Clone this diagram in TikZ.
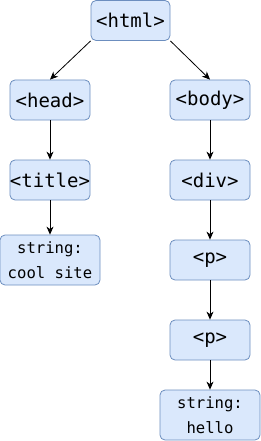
\documentclass[tikz,border=0pt]{standalone}
\usepackage{fontspec}
\setmonofont{DejaVu Sans Mono}
\usetikzlibrary{arrows.meta}
\definecolor{boxfill}{HTML}{DAE8FC}
\definecolor{boxline}{HTML}{6C8EBF}
\begin{document}
\begin{tikzpicture}[x=1pt,y=-1pt,
  tagbox/.style={draw=boxline, fill=boxfill, rounded corners=5pt, line width=0.8pt,
    inner sep=0pt, minimum width=80pt, minimum height=40pt,
    font=\ttfamily\fontsize{19}{23}\selectfont},
  strbox/.style={draw=boxline, fill=boxfill, rounded corners=5pt, line width=0.8pt,
    inner sep=0pt, minimum width=100pt, minimum height=50pt, align=center,
    font=\ttfamily\fontsize{15.6}{25}\selectfont},
  conn/.style={draw=black, line width=0.8pt, -{Stealth[length=8pt,width=7pt,inset=2.5pt]}}
]
\useasboundingbox (0,0) rectangle (261,441);
\node[tagbox, minimum width=79pt] (html) at (130.5,20.5) {<html>};
\node[tagbox] (head) at (50,100) {<head>};
\node[tagbox] (body) at (210,100) {<body>};
\node[tagbox] (title) at (50,180) {<title>};
\node[tagbox] (div) at (210,180) {<div>};
\node[strbox] (s1) at (50,260) {string:\\cool site};
\node[tagbox] (p1) at (210,260) {<p>};
\node[tagbox] (p2) at (210,340) {<p>};
\node[strbox] (s2) at (210,415) {string:\\hello};
\draw[conn] (html.south west) -- (head.north);
\draw[conn] (html.south east) -- (body.north);
\draw[conn] (head) -- (title);
\draw[conn] (title) -- (s1);
\draw[conn] (body) -- (div);
\draw[conn] (div) -- (p1);
\draw[conn] (p1) -- (p2);
\draw[conn] (p2) -- (s2);
\end{tikzpicture}
\end{document}
